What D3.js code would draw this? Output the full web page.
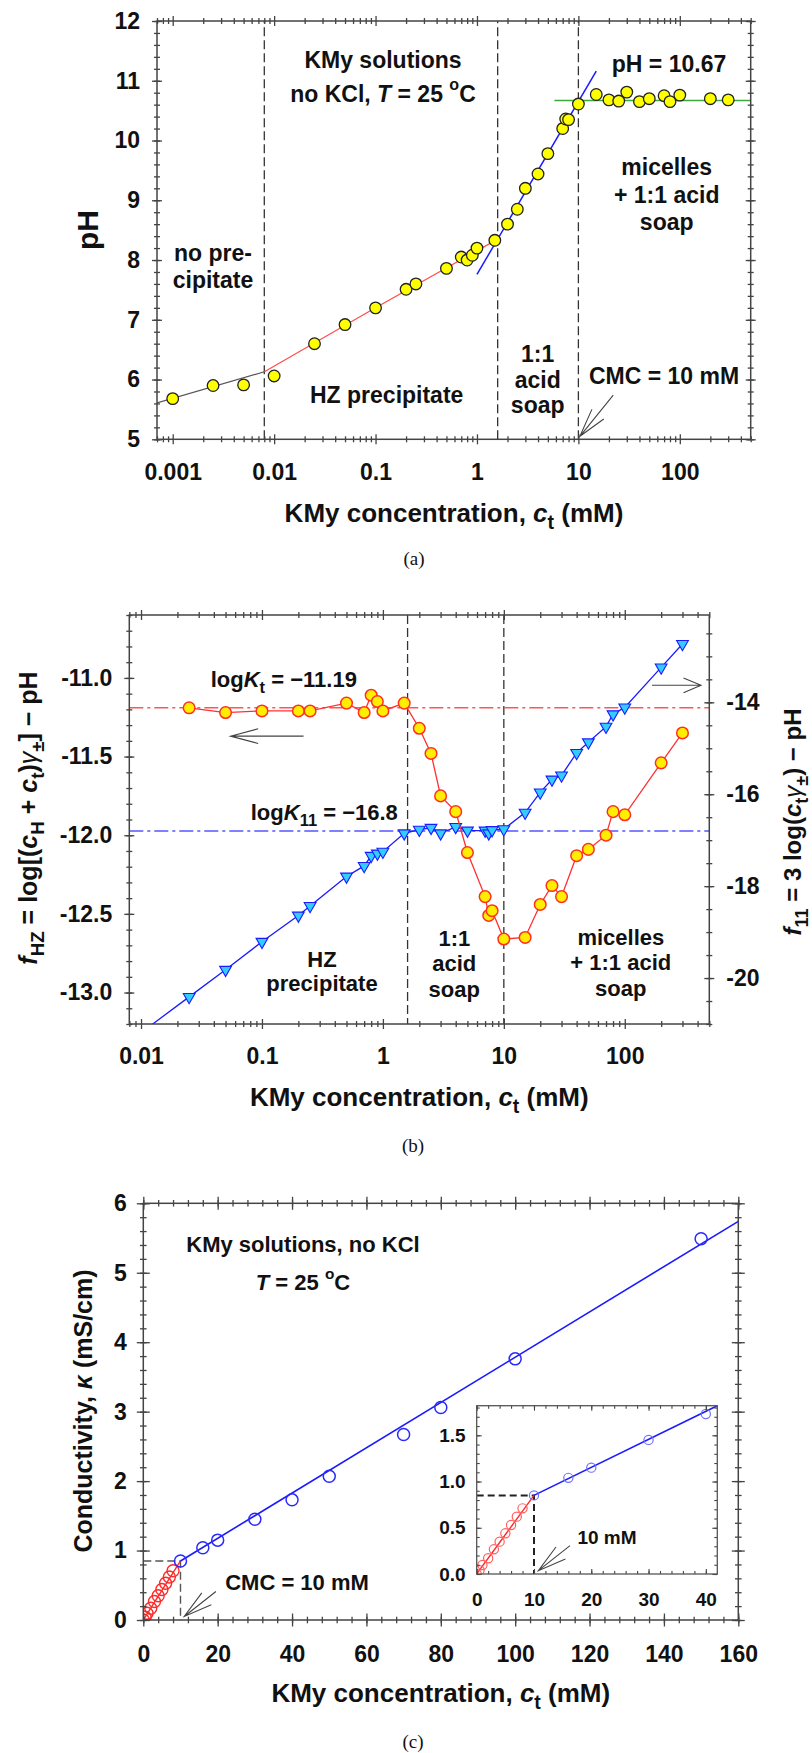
<!DOCTYPE html>
<html>
<head>
<meta charset="utf-8">
<script src="https://cdn.jsdelivr.net/npm/d3@7"></script>
<style>
  body { margin: 0; background: #fff; }
  text { font-family: "Liberation Sans", Arial, sans-serif; font-weight: bold; fill: #111; }
  text.cap { font-family: "Liberation Serif", "DejaVu Serif", serif; font-weight: normal; }
</style>
</head>
<body>
<svg id="fig" width="812" height="1753"></svg>
<script>
// ---- (a) pH of KMy solutions ----
const phConc = [0.001, 0.0025, 0.005, 0.01, 0.025, 0.05, 0.1, 0.2, 0.25, 0.5,
  0.7, 0.8, 0.9, 1.0, 1.5, 2, 2.5, 3, 4, 5,
  7, 7.5, 8, 10, 15, 20, 25, 30, 40, 50,
  70, 80, 100, 200, 300];
const phVal = [5.68, 5.90, 5.91, 6.06, 6.60, 6.92, 7.20, 7.51, 7.60, 7.86,
  8.05, 8.00, 8.08, 8.20, 8.33, 8.60, 8.85, 9.20, 9.44, 9.78,
  10.20, 10.36, 10.35, 10.61, 10.77, 10.68, 10.66, 10.81, 10.65, 10.70,
  10.75, 10.65, 10.76, 10.70, 10.68];
const noPrecipFit = [[0.0007, 5.61], [0.008, 6.13]];
const hzFit = [[0.008, 6.13], [0.1, 7.2], [1.6, 8.35]];
const acidSoapFit = [[1.0, 7.76], [15, 11.16]];
const micelleFit = [[5.8, 10.67], [500, 10.67]];
const phaseBoundsA = [0.008, 1.6, 10];
const decadesA = [0.001, 0.01, 0.1, 1, 10, 100];

// ---- (b) f_HZ and f_11 ----
const fConc = [0.025, 0.05, 0.1, 0.2, 0.25, 0.5, 0.7, 0.8, 0.9, 1.0,
  1.5, 2, 2.5, 3, 4, 5, 7, 7.5, 8, 10,
  15, 20, 25, 30, 40, 50, 70, 80, 100, 200, 300];
const fHZ = [-11.19, -11.22, -11.21, -11.21, -11.21, -11.16, -11.22, -11.11, -11.15, -11.21,
  -11.16, -11.32, -11.48, -11.75, -11.85, -12.11, -12.39, -12.51, -12.48, -12.66,
  -12.65, -12.44, -12.32, -12.39, -12.13, -12.09, -12.00, -11.85, -11.87, -11.54, -11.35];
const f11 = [-20.41, -19.82, -19.21, -18.64, -18.43, -17.79, -17.56, -17.34, -17.29, -17.25,
  -16.85, -16.77, -16.73, -16.85, -16.71, -16.79, -16.79, -16.85, -16.78, -16.76,
  -16.40, -15.96, -15.68, -15.59, -15.10, -14.87, -14.53, -14.26, -14.11, -13.24, -12.73];
const logKt = -11.19;
const logK11 = -16.8;
const phaseBoundsB = [1.6, 10];
const decadesB = [0.01, 0.1, 1, 10, 100];

// ---- (c) conductivity ----
const lowConc = [0, 0.5, 1, 2, 3, 4, 5, 6, 7, 8];
const lowKappa = [0, 0.04, 0.097, 0.17, 0.267, 0.35, 0.44, 0.53, 0.62, 0.71];
const highConc = [10, 16, 20, 30, 40, 50, 70, 80, 100, 150];
const highKappa = [0.85, 1.04, 1.15, 1.45, 1.73, 2.07, 2.67, 3.06, 3.76, 5.49];
const belowFit = [[0, 0], [10, 0.85]];
const aboveFit = [[10, 0.85], [160, 5.74]];
const insetAboveFit = [[10, 0.85], [42, 1.82]];
const cmc = 10, kappaCmc = 0.85;

const svg = d3.select("#fig");
svg.append("rect").attr("width", 812).attr("height", 1753).attr("fill", "#fff");
const defs = svg.append("defs");

// text with italic / sub / sup parts
function label(g, x, y, parts, o = {}) {
  const size = o.size || 22;
  const t = g.append("text").attr("font-size", size).attr("text-anchor", o.anchor || "middle");
  if (o.rot) t.attr("transform", `translate(${x},${y}) rotate(${o.rot})`);
  else t.attr("x", x).attr("y", y);
  if (o.cls) t.attr("class", o.cls);
  let shift = 0;
  (typeof parts === "string" ? [parts] : parts).forEach(p => {
    if (typeof p === "string") p = { t: p };
    const s = t.append("tspan").text(p.t);
    let to = 0;
    if (p.sub) { to = size * 0.28; s.attr("font-size", size * 0.75); }
    if (p.sup) { to = -size * 0.5; s.attr("font-size", size * 0.7); }
    if (to !== shift) s.attr("dy", to - shift);
    if (p.i) s.style("font-style", "italic");
    if (p.n) s.style("font-weight", "normal");
    shift = to;
  });
  return t;
}

function logMinor(lo, hi) {
  const out = [];
  for (let n = -5; n <= 3; n++)
    for (let k = 2; k <= 9; k++) {
      const v = k * Math.pow(10, n);
      if (v >= lo && v <= hi) out.push(v);
    }
  return out;
}
const steps = (a, b, s) => d3.range(Math.round(a / s), Math.round(b / s) + 1).map(i => +(i * s).toFixed(3));

function axes(g, x, y, o) {
  const [xl, xr] = x.range(), [yb, yt] = y.range();
  const none = () => "";
  const side = (fn, scale, vals, size, pos, fmt, pad) => {
    const ax = fn(scale).tickValues(vals).tickSize(size).tickSizeOuter(0)
      .tickPadding(pad || 0).tickFormat(fmt || none);
    const s = g.append("g").attr("transform", pos).call(ax);
    s.select(".domain").remove();
    s.attr("color", "#444").attr("font-size", o.fs || 23).attr("font-family", null);
    s.selectAll("line").attr("stroke-width", o.tw || 1.3);
    return s;
  };
  const [mo, mi] = o.maj, [no, ni] = o.min;
  const yr = o.yR || y;
  // bottom
  side(d3.axisBottom, x, o.xMaj, mo, `translate(0,${yb})`, o.xFmt, o.padB);
  side(d3.axisBottom, x, o.xMaj, -mi, `translate(0,${yb})`);
  side(d3.axisBottom, x, o.xMin, no, `translate(0,${yb})`);
  side(d3.axisBottom, x, o.xMin, -ni, `translate(0,${yb})`);
  // top
  side(d3.axisTop, x, o.xMaj, mo, `translate(0,${yt})`);
  side(d3.axisTop, x, o.xMaj, -mi, `translate(0,${yt})`);
  side(d3.axisTop, x, o.xMin, no, `translate(0,${yt})`);
  side(d3.axisTop, x, o.xMin, -ni, `translate(0,${yt})`);
  // left
  side(d3.axisLeft, y, o.yMaj, mo, `translate(${xl},0)`, o.yFmt, o.padL);
  side(d3.axisLeft, y, o.yMaj, -mi, `translate(${xl},0)`);
  side(d3.axisLeft, y, o.yMin, no, `translate(${xl},0)`);
  side(d3.axisLeft, y, o.yMin, -ni, `translate(${xl},0)`);
  // right
  side(d3.axisRight, yr, o.yRMaj || o.yMaj, mo, `translate(${xr},0)`, o.yRFmt, o.padR);
  side(d3.axisRight, yr, o.yRMaj || o.yMaj, -mi, `translate(${xr},0)`);
  side(d3.axisRight, yr, o.yRMin || o.yMin, no, `translate(${xr},0)`);
  side(d3.axisRight, yr, o.yRMin || o.yMin, -ni, `translate(${xr},0)`);
  g.append("rect").attr("x", xl).attr("y", yt).attr("width", xr - xl).attr("height", yb - yt)
    .attr("fill", "none").attr("stroke", o.frame || "#444").attr("stroke-width", o.fw || 1.5);
}

function clipFor(id, x, y) {
  const [xl, xr] = x.range(), [yb, yt] = y.range();
  defs.append("clipPath").attr("id", id).append("rect")
    .attr("x", xl).attr("y", yt).attr("width", xr - xl).attr("height", yb - yt);
  return `url(#${id})`;
}

// open arrow: tip point, direction of tail (deg, screen coords), shaft and head length
function arrow(g, tip, angDeg, shaft, head, spread = 15) {
  const a = angDeg * Math.PI / 180, sp = spread * Math.PI / 180;
  const pt = (ang, len) => [tip[0] + len * Math.cos(ang), tip[1] + len * Math.sin(ang)];
  const tail = pt(a, shaft), h1 = pt(a - sp, head), h2 = pt(a + sp, head);
  g.append("path")
    .attr("d", `M${tail}L${tip}M${h1}L${tip}L${h2}`)
    .attr("fill", "none").attr("stroke", "#444").attr("stroke-width", 1.1);
}

const minusFmt = f => v => d3.format(f)(v).replace("\u2212", "-");
const ctTitle = ["KMy concentration, ", { t: "c", i: true }, { t: "t", sub: true }, " (mM)"];

// ================= panel (a) =================
{
  const g = svg.append("g");
  const x = d3.scaleLog().domain([0.0007, 500]).range([157, 750.7]);
  const y = d3.scaleLinear().domain([5, 12]).range([439.3, 21]);
  const clip = clipFor("clipA", x, y);
  const line = d3.line().x(d => x(d[0])).y(d => y(d[1]));
  const plot = g.append("g").attr("clip-path", clip);

  plot.selectAll(".bound").data(phaseBoundsA).join("line")
    .attr("x1", d => x(d)).attr("x2", d => x(d)).attr("y1", y(5)).attr("y2", y(12))
    .attr("stroke", "#333").attr("stroke-width", 1.3).attr("stroke-dasharray", "9,4");

  plot.append("path").attr("d", line(noPrecipFit)).attr("fill", "none").attr("stroke", "#555").attr("stroke-width", 1.2);
  plot.append("path").attr("d", line.curve(d3.curveMonotoneX)(hzFit)).attr("fill", "none").attr("stroke", "#ff4d4d").attr("stroke-width", 1.2);
  line.curve(d3.curveLinear);
  plot.append("path").attr("d", line(micelleFit)).attr("fill", "none").attr("stroke", "#3aaa3a").attr("stroke-width", 1.6);
  plot.append("path").attr("d", line(acidSoapFit)).attr("fill", "none").attr("stroke", "#1a1aff").attr("stroke-width", 1.5);

  plot.selectAll(".pt").data(phConc).join("circle")
    .attr("cx", d => x(d)).attr("cy", (d, i) => y(phVal[i])).attr("r", 5.8)
    .attr("fill", "#ffff00").attr("stroke", "#222").attr("stroke-width", 1.3);

  axes(g, x, y, {
    xMaj: decadesA, xMin: logMinor(0.0007, 500), xFmt: d => d3.format("~g")(d),
    yMaj: d3.range(5, 13), yMin: steps(5, 12, 0.2), yFmt: d3.format("d"),
    maj: [5, 5], min: [3, 3], padB: 19, padL: 12
  });

  label(g, 98, 230, "pH", { size: 30, rot: -90 });
  label(g, 454, 522, ctTitle, { size: 26 });
  label(g, 414, 565, "(a)", { size: 19, cls: "cap" });

  label(g, 383, 68, "KMy solutions", { size: 23 });
  label(g, 383, 101.7, ["no KCl, ", { t: "T", i: true }, " = 25 ", { t: "o", sup: true }, "C"], { size: 23 });
  label(g, 669, 71.7, "pH = 10.67", { size: 23 });
  ["micelles", "+ 1:1 acid", "soap"].forEach((s, i) => label(g, 666.7, 175 + i * 27.5, s, { size: 23 }));
  ["no pre-", "cipitate"].forEach((s, i) => label(g, 213, 260.5 + i * 27, s, { size: 23 }));
  label(g, 386.7, 402.7, "HZ precipitate", { size: 23 });
  ["1:1", "acid", "soap"].forEach((s, i) => label(g, 537.7, 361.7 + i * 25.8, s, { size: 23 }));
  label(g, 664, 384, "CMC = 10 mM", { size: 23 });
  arrow(g, [x(cmc) + 1.5, y(5.05)], -51, 53, 29.5);
}

// ================= panel (b) =================
{
  const g = svg.append("g");
  const x = d3.scaleLog().domain([0.008, 500]).range([129.3, 709.3]);
  const y = d3.scaleLinear().domain([-13.2, -10.6]).range([1024, 615]);
  const y2 = d3.scaleLinear().domain([-21, -12.1]).range([1024, 615]);
  const clip = clipFor("clipB", x, y);
  const plot = g.append("g").attr("clip-path", clip);

  plot.selectAll(".bound").data(phaseBoundsB).join("line")
    .attr("x1", d => x(d)).attr("x2", d => x(d)).attr("y1", 615).attr("y2", 1024)
    .attr("stroke", "#333").attr("stroke-width", 1.3).attr("stroke-dasharray", "9,4");

  plot.append("line").attr("x1", 129.3).attr("x2", 709.3).attr("y1", y(logKt)).attr("y2", y(logKt))
    .attr("stroke", "#ff5555").attr("stroke-width", 1.4).attr("stroke-dasharray", "14,4,3,4");
  plot.append("line").attr("x1", 129.3).attr("x2", 709.3).attr("y1", y2(logK11)).attr("y2", y2(logK11))
    .attr("stroke", "#5555ff").attr("stroke-width", 1.4).attr("stroke-dasharray", "14,4,3,4");

  // f11 line, first segment extended to the left border
  const s0 = (f11[1] - f11[0]) / (Math.log10(fConc[1]) - Math.log10(fConc[0]));
  const x0 = x.domain()[0];
  const f11Pts = [[x0, f11[0] - s0 * (Math.log10(fConc[0]) - Math.log10(x0))]]
    .concat(fConc.map((c, i) => [c, f11[i]]));
  plot.append("path").attr("d", d3.line().x(d => x(d[0])).y(d => y2(d[1]))(f11Pts))
    .attr("fill", "none").attr("stroke", "#1a1aff").attr("stroke-width", 1.3);
  plot.selectAll(".tri").data(fConc).join("path")
    .attr("d", d3.symbol(d3.symbolTriangle, 60))
    .attr("transform", (d, i) => `translate(${x(d)},${y2(f11[i])}) rotate(180)`)
    .attr("fill", "#33ccff").attr("stroke", "#1a1aff").attr("stroke-width", 1.1);

  plot.append("path").attr("d", d3.line().x((d, i) => x(d)).y((d, i) => y(fHZ[i]))(fConc))
    .attr("fill", "none").attr("stroke", "#ff3030").attr("stroke-width", 1.3);
  plot.selectAll(".pt").data(fConc).join("circle")
    .attr("cx", d => x(d)).attr("cy", (d, i) => y(fHZ[i])).attr("r", 5.8)
    .attr("fill", "#ffee00").attr("stroke", "#ff3020").attr("stroke-width", 1.5);

  axes(g, x, y, {
    xMaj: decadesB, xMin: logMinor(0.008, 500), xFmt: d => d3.format("~g")(d),
    yMaj: [-13, -12.5, -12, -11.5, -11], yMin: steps(-13.2, -10.6, 0.1), yFmt: minusFmt(".1f"),
    yR: y2, yRMaj: [-20, -18, -16, -14], yRMin: steps(-21, -12.5, 0.5), yRFmt: minusFmt("d"),
    maj: [5, 5], min: [3, 3], padB: 19, padL: 12, padR: 12
  });

  label(g, 37, 818, [{ t: "f", i: true }, { t: "HZ", sub: true }, " = log[(", { t: "c", i: true }, { t: "H", sub: true },
    " + ", { t: "c", i: true }, { t: "t", sub: true }, ")", { t: "\u03b3", i: true, n: true }, { t: "\u00b1", sub: true }, "] \u2212 pH"],
    { size: 25, rot: -90 });
  label(g, 801, 822, [{ t: "f", i: true }, { t: "11", sub: true }, " = 3 log(", { t: "c", i: true }, { t: "t", sub: true },
    { t: "\u03b3", i: true, n: true }, { t: "\u00b1", sub: true }, ") \u2212 pH"], { size: 24, rot: -90 });
  label(g, 419.3, 1106, ctTitle, { size: 26 });
  label(g, 413, 1151.7, "(b)", { size: 19, cls: "cap" });

  label(g, 283.8, 686.7, ["log", { t: "K", i: true }, { t: "t", sub: true }, " = \u221211.19"], { size: 22 });
  label(g, 324.3, 820, ["log", { t: "K", i: true }, { t: "11", sub: true }, " = \u221216.8"], { size: 22 });
  ["HZ", "precipitate"].forEach((s, i) => label(g, 322, 966.7 + i * 24.5, s, { size: 22 }));
  ["1:1", "acid", "soap"].forEach((s, i) => label(g, 454.3, 946 + i * 25.4, s, { size: 22 }));
  ["micelles", "+ 1:1 acid", "soap"].forEach((s, i) => label(g, 620.8, 945 + i * 25.4, s, { size: 22 }));
  arrow(g, [x(0.055), y(-11.37)], 0, 73, 28.6);
  arrow(g, [701, y2(-13.63)], 180, 49, 19, 23);
}

// ================= panel (c) =================
{
  const g = svg.append("g");
  const x = d3.scaleLinear().domain([0, 160]).range([143.3, 738.3]);
  const y = d3.scaleLinear().domain([0, 6]).range([1620, 1203.3]);
  const clip = clipFor("clipC", x, y);
  const line = d3.line().x(d => x(d[0])).y(d => y(d[1]));
  const plot = g.append("g").attr("clip-path", clip);

  plot.append("path").attr("d", line([[0, kappaCmc], [cmc, kappaCmc], [cmc, 0]]))
    .attr("fill", "none").attr("stroke", "#555").attr("stroke-width", 1.4).attr("stroke-dasharray", "8,4");
  plot.append("path").attr("d", line(belowFit)).attr("fill", "none").attr("stroke", "#ff2a2a").attr("stroke-width", 1.4);
  plot.append("path").attr("d", line(aboveFit)).attr("fill", "none").attr("stroke", "#1a1aff").attr("stroke-width", 1.6);
  plot.selectAll(".lo").data(lowConc).join("circle")
    .attr("cx", d => x(d)).attr("cy", (d, i) => y(lowKappa[i])).attr("r", 6)
    .attr("fill", "none").attr("stroke", "#ff2a2a").attr("stroke-width", 1.4);
  plot.selectAll(".hi").data(highConc).join("circle")
    .attr("cx", d => x(d)).attr("cy", (d, i) => y(highKappa[i])).attr("r", 6)
    .attr("fill", "none").attr("stroke", "#2a2aff").attr("stroke-width", 1.5);

  axes(g, x, y, {
    xMaj: d3.range(0, 161, 20), xMin: d3.range(0, 161, 4), xFmt: d3.format("d"),
    yMaj: d3.range(0, 7), yMin: steps(0, 6, 0.2), yFmt: d3.format("d"),
    maj: [6.5, 6.5], min: [3.3, 3.3], padB: 19, padL: 10
  });

  label(g, 92, 1411, ["Conductivity, ", { t: "\u03ba", i: true }, " (mS/cm)"], { size: 25, rot: -90 });
  label(g, 440.8, 1702, ctTitle, { size: 26 });
  label(g, 413, 1748, "(c)", { size: 19, cls: "cap" });
  label(g, 303, 1251.7, "KMy solutions, no KCl", { size: 22 });
  label(g, 303, 1290, [{ t: "T", i: true }, " = 25 ", { t: "o", sup: true }, "C"], { size: 22 });
  label(g, 297, 1590, "CMC = 10 mM", { size: 22 });
  arrow(g, [x(11), y(0.05)], -38.3, 40.4, 29.5);

  // inset
  const xi = d3.scaleLinear().domain([0, 42]).range([476.7, 717.3]);
  const yi = d3.scaleLinear().domain([0, 1.82]).range([1574, 1405.7]);
  const gi = g.append("g");
  gi.append("rect").attr("x", 476.7).attr("y", 1405.7).attr("width", 240.6).attr("height", 168.3).attr("fill", "#fff");
  const li = d3.line().x(d => xi(d[0])).y(d => yi(d[1]));
  const pi = gi.append("g").attr("clip-path", clipFor("clipI", xi, yi));
  pi.append("path").attr("d", li([[0, kappaCmc], [cmc, kappaCmc], [cmc, 0]]))
    .attr("fill", "none").attr("stroke", "#222").attr("stroke-width", 2).attr("stroke-dasharray", "7,4");
  pi.append("path").attr("d", li(belowFit)).attr("fill", "none").attr("stroke", "#ff2a2a").attr("stroke-width", 1.4);
  pi.append("path").attr("d", li(insetAboveFit)).attr("fill", "none").attr("stroke", "#1a1aff").attr("stroke-width", 1.6);
  pi.selectAll(".lo").data(lowConc).join("circle")
    .attr("cx", d => xi(d)).attr("cy", (d, i) => yi(lowKappa[i])).attr("r", 4.6)
    .attr("fill", "none").attr("stroke", "#ff6060").attr("stroke-width", 1.2);
  pi.selectAll(".hi").data(highConc.filter(c => c <= 42)).join("circle")
    .attr("cx", d => xi(d)).attr("cy", (d, i) => yi(highKappa[i])).attr("r", 4.6)
    .attr("fill", "none").attr("stroke", "#7070ff").attr("stroke-width", 1.2);

  axes(gi, xi, yi, {
    xMaj: d3.range(0, 41, 10), xMin: d3.range(0, 42, 2), xFmt: d3.format("d"),
    yMaj: [0, 0.5, 1, 1.5], yMin: steps(0, 1.8, 0.1), yFmt: d3.format(".1f"),
    maj: [0, 5], min: [0, 3], padB: 19, padL: 11, fs: 19, tw: 1.1, frame: "#555", fw: 1.3
  });
  label(gi, 607, 1544, "10 mM", { size: 19 });
  arrow(gi, [xi(10.76), yi(0.036)], -38.3, 40.4, 29.5);
}
</script>
</body>
</html>
